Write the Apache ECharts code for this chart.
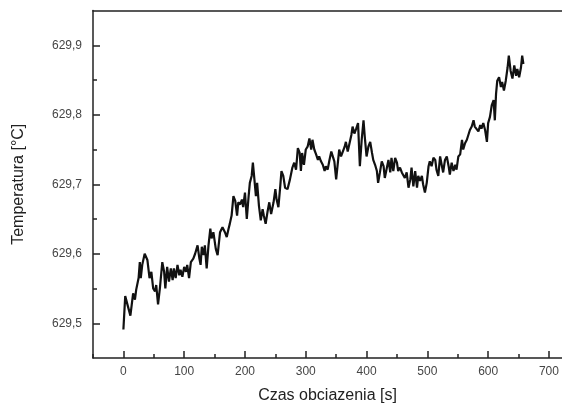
<!DOCTYPE html>
<html lang="pl">
<head>
  <meta charset="utf-8">
  <title>Temperatura</title>
  <script src="https://cdn.jsdelivr.net/npm/echarts@6/dist/echarts.min.js"></script>
  <style>
    html, body { margin: 0; padding: 0; background: #fff; }
    #chart1 { width: 562px; height: 409px; }
  </style>
</head>
<body>
<div id="chart1"></div>
<script>
  // czas obciazenia [s]
  var czas = [
    0, 3, 6, 11.5, 16, 19, 21, 25, 27, 28.6, 31, 35, 39.5, 43, 46, 49, 52, 54, 57, 60,
    64, 67, 69, 72, 75, 78, 81, 83, 86, 89, 92, 94, 97, 100, 103, 105, 108, 111, 115, 118,
    122, 125, 127, 129, 132, 134, 137, 140, 143, 145, 148, 152, 155, 159, 163, 167, 170, 173, 175, 178,
    181, 184, 187, 189, 192, 195, 197, 200, 203, 206, 208, 211, 213, 215, 218, 220, 223, 226, 229, 231,
    234, 237, 240, 243, 247, 250, 252, 255, 258, 260, 263, 266, 270, 274, 278, 281, 284, 287, 290, 292,
    294, 297, 300, 303, 306, 309, 311, 314, 317, 320, 322, 325, 328, 331, 333, 336, 339, 342, 344, 347,
    350, 353, 355, 358, 361, 364, 366, 369, 372, 375, 377, 380, 383, 386, 389, 392, 395, 397, 400, 403,
    406, 409, 411, 414, 417, 419, 422, 425, 428, 430, 433, 436, 439, 441, 444, 447, 450, 452, 455, 458,
    461, 463, 466, 469, 472, 474, 477, 480, 483, 485, 488, 491, 493, 496, 499, 502, 504, 507, 510, 513,
    515, 518, 521, 524, 526, 529, 532, 535, 537, 540, 543, 546, 548, 551, 554, 557, 559, 562, 565, 567,
    570, 573, 576, 578, 581, 584, 587, 589, 592, 595, 598, 600, 603, 606, 609, 611, 613, 615, 618, 621,
    623, 626, 629, 632, 634, 637, 640, 643, 646, 648, 651, 654, 656, 658
  ];
  // temperatura [°C]
  var temperatura = [
    629.491, 629.539, 629.541, 629.511, 629.543, 629.534, 629.548, 629.565, 629.588, 629.565,
    629.584, 629.600, 629.591, 629.565, 629.574, 629.550, 629.546, 629.555, 629.527, 629.550,
    629.588, 629.574, 629.550, 629.581, 629.560, 629.579, 629.562, 629.579, 629.565, 629.584,
    629.569, 629.577, 629.567, 629.581, 629.574, 629.584, 629.565, 629.588, 629.593, 629.600,
    629.612, 629.593, 629.584, 629.610, 629.598, 629.612, 629.579, 629.612, 629.636, 629.622,
    629.631, 629.607, 629.598, 629.631, 629.638, 629.631, 629.624, 629.636, 629.643, 629.655,
    629.683, 629.676, 629.655, 629.674, 629.671, 629.678, 629.667, 629.688, 629.650, 629.683,
    629.702, 629.712, 629.731, 629.712, 629.683, 629.702, 629.669, 629.648, 629.664, 629.655,
    629.643, 629.660, 629.674, 629.657, 629.674, 629.693, 629.678, 629.667, 629.697, 629.719,
    629.712, 629.695, 629.693, 629.707, 629.724, 629.731, 629.721, 629.752, 629.745, 629.719,
    629.745, 629.728, 629.750, 629.754, 629.766, 629.750, 629.764, 629.750, 629.743, 629.735,
    629.740, 629.733, 629.728, 629.719, 629.726, 629.721, 629.735, 629.747, 629.745, 629.733,
    629.707, 629.733, 629.750, 629.740, 629.738, 629.754, 629.761, 629.747, 629.759, 629.771,
    629.783, 629.773, 629.780, 629.788, 629.726, 629.764, 629.792, 629.769, 629.740, 629.754,
    629.761, 629.745, 629.735, 629.728, 629.719, 629.702, 629.717, 629.733, 629.726, 629.709,
    629.707, 629.735, 629.717, 629.738, 629.719, 629.738, 629.731, 629.719, 629.724, 629.717,
    629.719, 629.709, 629.717, 629.695, 629.707, 629.724, 629.697, 629.719, 629.695, 629.712,
    629.705, 629.712, 629.700, 629.688, 629.702, 629.726, 629.733, 629.726, 629.738, 629.735,
    629.721, 629.712, 629.740, 629.726, 629.717, 629.735, 629.740, 629.726, 629.714, 629.731,
    629.719, 629.728, 629.721, 629.740, 629.743, 629.764, 629.750, 629.759, 629.764, 629.766,
    629.778, 629.783, 629.792, 629.783, 629.785, 629.776, 629.785, 629.780, 629.788, 629.778,
    629.761, 629.788, 629.797, 629.814, 629.821, 629.792, 629.830, 629.849, 629.854, 629.840,
    629.847, 629.835, 629.849, 629.868, 629.885, 629.863, 629.852, 629.871, 629.856, 629.866,
    629.854, 629.868, 629.885, 629.873
  ];

  var xTicks = [0, 100, 200, 300, 400, 500, 600, 700];
  var xMinorTicks = [-50, 50, 150, 250, 350, 450, 550, 650];
  var yTicks = [629.5, 629.6, 629.7, 629.8, 629.9];
  var yMinorTicks = [629.55, 629.65, 629.75, 629.85];

  var dane = [];
  for (var i = 0; i < czas.length; i++) {
    dane.push([czas[i], temperatura[i]]);
  }

  var chart1 = echarts.init(document.getElementById('chart1'));

  var xMin = -50, xMax = 721.5, yMin = 629.45, yMax = 629.95;
  var osColor = '#222';
  var labelColor = '#454545';

  var option = {
    animation: false,
    backgroundColor: '#fff',
    grid: {
      left: 93, right: 0, top: 10.5, bottom: 49,
      show: false,
      containLabel: false
    },
    xAxis: [
      {
        type: 'value', min: xMin, max: xMax,
        name: 'Czas obciazenia [s]', nameLocation: 'middle', nameGap: 30,
        nameTextStyle: { fontFamily: 'Liberation Sans', fontSize: 16, color: '#222' },
        axisLine: { show: true, onZero: false, lineStyle: { color: osColor, width: 1.5 } },
        axisTick: { show: true, inside: true, length: 7, customValues: xTicks, lineStyle: { color: osColor, width: 1.5 } },
        axisLabel: { customValues: xTicks, margin: 8, fontFamily: 'Liberation Sans', fontSize: 12, color: labelColor },
        splitLine: { show: false }
      },
      {
        type: 'value', min: xMin, max: xMax, position: 'bottom',
        axisLine: { show: false, onZero: false },
        axisTick: { show: true, inside: true, length: 4, customValues: xMinorTicks, lineStyle: { color: osColor, width: 1.5 } },
        axisLabel: { show: false },
        splitLine: { show: false }
      },
      {
        // gorna krawedz ramki
        type: 'value', min: xMin, max: xMax, position: 'top',
        axisLine: { show: true, onZero: false, lineStyle: { color: osColor, width: 1.5 } },
        axisTick: { show: false },
        axisLabel: { show: false },
        splitLine: { show: false }
      }
    ],
    yAxis: [
      {
        type: 'value', min: yMin, max: yMax,
        name: 'Temperatura [°C]', nameLocation: 'middle', nameGap: 66,
        nameTextStyle: { fontFamily: 'Liberation Sans', fontSize: 16, color: '#222' },
        axisLine: { show: true, onZero: false, lineStyle: { color: osColor, width: 1.5 } },
        axisTick: { show: true, inside: true, length: 7, customValues: yTicks, lineStyle: { color: osColor, width: 1.5 } },
        axisLabel: {
          customValues: yTicks, margin: 11, fontFamily: 'Liberation Sans', fontSize: 12, color: labelColor,
          formatter: function (v) { return v.toFixed(1).replace('.', ','); }
        },
        splitLine: { show: false }
      },
      {
        type: 'value', min: yMin, max: yMax, position: 'left',
        axisLine: { show: false, onZero: false },
        axisTick: { show: true, inside: true, length: 4, customValues: yMinorTicks, lineStyle: { color: osColor, width: 1.5 } },
        axisLabel: { show: false },
        splitLine: { show: false }
      }
    ],
    series: [
      {
        type: 'line',
        xAxisIndex: 0, yAxisIndex: 0,
        data: dane,
        showSymbol: false,
        lineStyle: { color: '#111', width: 2.2 },
        clip: true
      }
    ]
  };
  chart1.setOption(option);
</script>
</body>
</html>
